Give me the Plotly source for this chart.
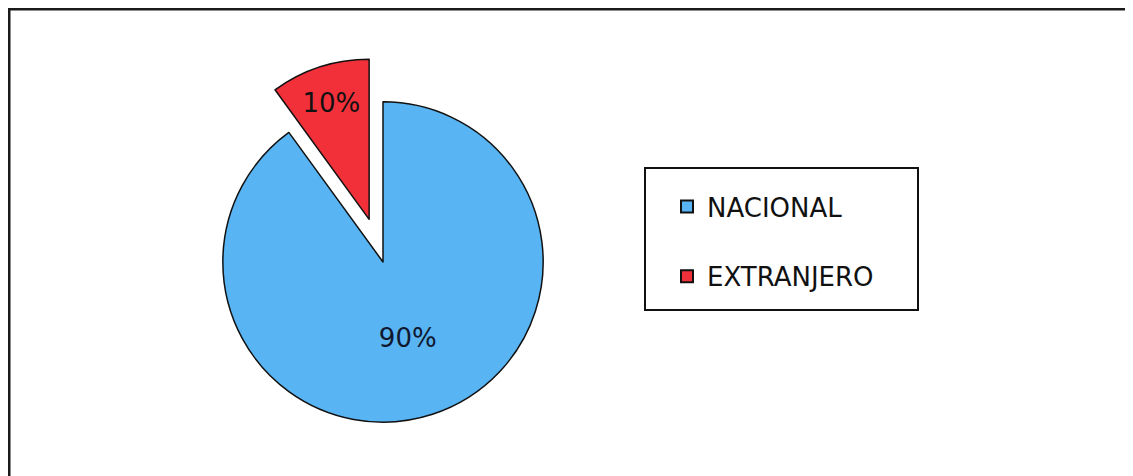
import plotly.graph_objects as go

categories = ["NACIONAL", "EXTRANJERO"]
values = [90, 10]
colors = ["#58B4F2", "#F2303A"]
pulls = [0, 0.28]

# page is rendered with an 8px body margin, so the figure is 8px smaller
W, H = 1125, 468
FONT = "DejaVu Sans"

cx, cy, half = 375, 254, 205  # pie domain centre and half-size (px)

fig = go.Figure()

fig.add_trace(go.Pie(
    labels=categories,
    values=values,
    marker=dict(colors=colors, line=dict(color="#111111", width=1.5)),
    pull=pulls,
    sort=False,
    direction="clockwise",
    rotation=0,
    textinfo="percent",
    texttemplate="%{percent:.0%}",
    textposition="inside",
    insidetextorientation="horizontal",
    textfont=dict(family=FONT, size=26, color=["#101830", "#111111"]),
    showlegend=False,
    hoverinfo="label+percent",
    domain=dict(x=[(cx - half) / W, (cx + half) / W],
                y=[1 - (cy + half) / H, 1 - (cy - half) / H]),
))

# legend entries built from the same category/color lists
for i, (cat, col) in enumerate(zip(categories, colors)):
    fig.add_trace(go.Scatter(
        x=[None], y=[None], mode="markers", name=cat,
        legendgroup=f"g{i}",
        marker=dict(symbol="square", size=12, color=col,
                    line=dict(color="#111111", width=2)),
    ))

fig.update_layout(
    width=W, height=H,
    margin=dict(l=0, r=0, t=0, b=0),
    paper_bgcolor="white",
    plot_bgcolor="white",
    font=dict(family=FONT, color="#111111"),
    xaxis=dict(visible=False),
    yaxis=dict(visible=False),
    legend=dict(
        x=659 / W, y=1 - 175 / H, xanchor="left", yanchor="top",
        font=dict(family=FONT, size=26, color="#111111"),
        tracegroupgap=33,
        bgcolor="rgba(0,0,0,0)",
        borderwidth=0,
        itemclick=False,
    ),
    shapes=[
        dict(type="rect", xref="paper", yref="paper",
             x0=1 / W, x1=1.02, y0=-0.02, y1=1 - 1 / H,
             line=dict(color="#1a1a1a", width=3), layer="above"),
        dict(type="rect", xref="paper", yref="paper",
             x0=637 / W, x1=910 / W, y0=1 - 302 / H, y1=1 - 160 / H,
             line=dict(color="#111111", width=2), layer="above"),
    ],
)

fig.write_html("out.html")
